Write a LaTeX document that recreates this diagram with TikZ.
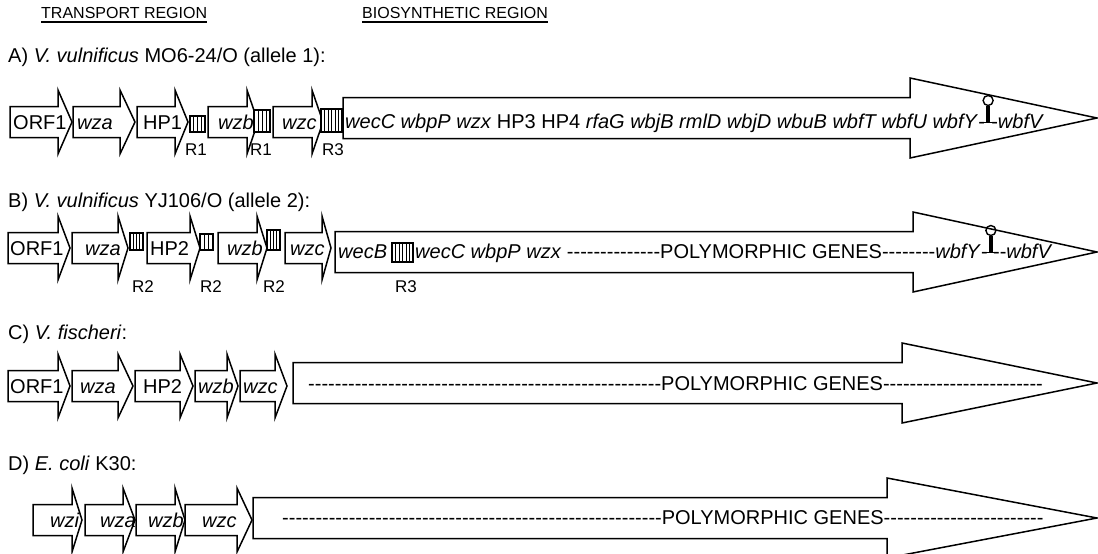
\documentclass[tikz,border=0pt]{standalone}
\usepackage{fontspec}
\setmainfont{Liberation Sans}[Ligatures=TeXOff]
\usetikzlibrary{calc}
\tikzset{
  gene/.style={draw=black, line width=1.5pt, fill=white, line join=miter},
  rbox/.style={draw=black, line width=1.3pt, fill=white},
  rline/.style={draw=black, line width=0.9pt},
  gtext/.style={font=\fontsize{20}{24}\selectfont, inner sep=0pt, anchor=base west},
  rtext/.style={font=\fontsize{17}{20}\selectfont, inner sep=0pt, anchor=base west},
  rowlbl/.style={font=\fontsize{20}{24}\selectfont, inner sep=0pt, anchor=base west},
  hdr/.style={font=\fontsize{16}{19}\selectfont, inner sep=0pt, anchor=base west},
  hairpin/.pic={
    \draw[line width=1.4pt] (0,-22) circle[radius=5pt];
    \fill (-2.3,-17) rectangle (2.3,0);
    \draw[line width=1.8pt] (-5.5,0) -- (5.5,0);
  }
}
% small gene arrow: left, head base, tip, centre y
\newcommand\GA[4]{\draw[gene] (#1,#4-15.5) -- (#2,#4-15.5) -- (#2,#4-32) -- (#3,#4) -- (#2,#4+32) -- (#2,#4+15.5) -- (#1,#4+15.5) -- cycle;}
% big region arrow: left, head base, tip, centre y
\newcommand\BA[4]{\draw[gene] (#1,#4-20.5) -- (#2,#4-20.5) -- (#2,#4-40) -- (#3,#4) -- (#2,#4+40) -- (#2,#4+20.5) -- (#1,#4+20.5) -- cycle;}
% repeat box: x1, x2, y1, y2, number of lines
\newcommand\RB[5]{\draw[rbox] (#1,#3) rectangle (#2,#4);
  \foreach \k in {1,...,#5}{\draw[rline] ({#1+\k*(#2-#1)/(#5+1)},#3) -- ({#1+\k*(#2-#1)/(#5+1)},#4);}}
\newcommand\hy[1]{\foreach \i in {1,...,#1}{-}}
\begin{document}
\begin{tikzpicture}[x=1pt,y=-1pt]
\useasboundingbox (0,0) rectangle (1098,554);
\clip (0,0) rectangle (1098,554);

% headers
\node[hdr] (h1) at (41,19) {TRANSPORT REGION};
\node[hdr] (h2) at (362,19) {BIOSYNTHETIC REGION};
\draw[line width=1.2pt] ([yshift=-3pt]h1.base west) -- ([yshift=-3pt]h1.base east);
\draw[line width=1.2pt] ([yshift=-3pt]h2.base west) -- ([yshift=-3pt]h2.base east);

% ---------------- Row A
\node[rowlbl] (labA) at (8,62) {A) \textit{V. vulnificus} MO6-24/O (allele 1):};
\BA{343}{910}{1097}{118}
\GA{10}{58}{72}{122}
\GA{73}{120}{135}{122}
\GA{137}{175}{188}{122}
\GA{208}{247}{258}{122}
\GA{273}{312}{323}{122}
\RB{190}{205}{116}{132}{3}
\RB{254}{270}{110}{132}{3}
\RB{321}{342}{109}{132}{5}
\node[gtext] (a1) at (13,129) {ORF1};
\node[gtext] (a2) at (77,129) {\textit{wza}};
\node[gtext] (a3) at (143,129) {HP1};
\node[gtext] (a4) at (218,129) {\textit{wzb}};
\node[gtext] (a5) at (282,129) {\textit{wzc}};
\node[rtext] (ar1) at (185,155) {R1};
\node[rtext] (ar2) at (250,155) {R1};
\node[rtext] (ar3) at (322,155) {R3};
\node[gtext] (tA) at (345,128) {\textit{wecC wbpP wzx} HP3 HP4 \textit{rfaG wbjB rmlD wbjD wbuB wbfT wbfU wbfY}-};
\pic at ([xshift=3pt,yshift=5.5pt]tA.base east) {hairpin};
\node[gtext] (tA2) at ([xshift=6pt]tA.base east) {-\textit{wbfV}};

% ---------------- Row B
\node[rowlbl] (labB) at (8,207) {B) \textit{V. vulnificus} YJ106/O (allele 2):};
\BA{335}{913}{1097}{252}
\GA{8}{58}{70}{248}
\GA{72}{118}{128}{248}
\GA{147}{190}{200}{248}
\GA{218}{257}{267}{248}
\GA{285}{322}{331}{248}
\RB{130}{143}{233}{250}{3}
\RB{200}{213}{234}{250}{2}
\RB{267}{280}{230}{250}{3}
\RB{392}{413}{243}{262}{5}
\node[gtext] (b1) at (10,255) {ORF1};
\node[gtext] (b2) at (85,255) {\textit{wza}};
\node[gtext] (b3) at (150,255) {HP2};
\node[gtext] (b4) at (227,255) {\textit{wzb}};
\node[gtext] (b5) at (290,255) {\textit{wzc}};
\node[rtext] (br1) at (132,292) {R2};
\node[rtext] (br2) at (200,292) {R2};
\node[rtext] (br3) at (263,292) {R2};
\node[rtext] (br4) at (395,292) {R3};
\node[gtext] (tB1) at (338,258) {\textit{wecB}};
\node[gtext] (tB2) at (415,258) {\textit{wecC wbpP wzx} \hy{14}POLYMORPHIC GENES\hy{8}\textit{wbfY}-};
\pic at ([xshift=3pt,yshift=5.5pt]tB2.base east) {hairpin};
\node[gtext] (tB3) at ([xshift=5pt]tB2.base east) {--\textit{wbfV}};

% ---------------- Row C
\node[rowlbl] (labC) at (8,339) {C) \textit{V. fischeri}:};
\BA{293}{902}{1097}{383}
\GA{8}{58}{70}{386}
\GA{72}{118}{133}{386}
\GA{135}{180}{193}{386}
\GA{195}{227}{238}{386}
\GA{240}{275}{287}{386}
\node[gtext] (c1) at (10,393) {ORF1};
\node[gtext] (c2) at (80,393) {\textit{wza}};
\node[gtext] (c3) at (143,393) {HP2};
\node[gtext] (c4) at (198,393) {\textit{wzb}};
\node[gtext] (c5) at (243,393) {\textit{wzc}};
\node[gtext] (tC) at (308,390) {\hy{53}POLYMORPHIC GENES\hy{24}};

% ---------------- Row D
\node[rowlbl] (labD) at (8,470) {D) \textit{E. coli} K30:};
\BA{253}{887}{1097}{518}
\GA{33}{72}{82}{520}
\GA{85}{123}{135}{520}
\GA{136}{175}{185}{520}
\GA{185}{237}{252}{520}
\node[gtext] (d1) at (50,527) {\textit{wzi}};
\node[gtext] (d2) at (100,527) {\textit{wza}};
\node[gtext] (d3) at (148,527) {\textit{wzb}};
\node[gtext] (d4) at (202,527) {\textit{wzc}};
\node[gtext] (tD) at (282,524) {\hy{57}POLYMORPHIC GENES\hy{24}};
\end{tikzpicture}
\end{document}
